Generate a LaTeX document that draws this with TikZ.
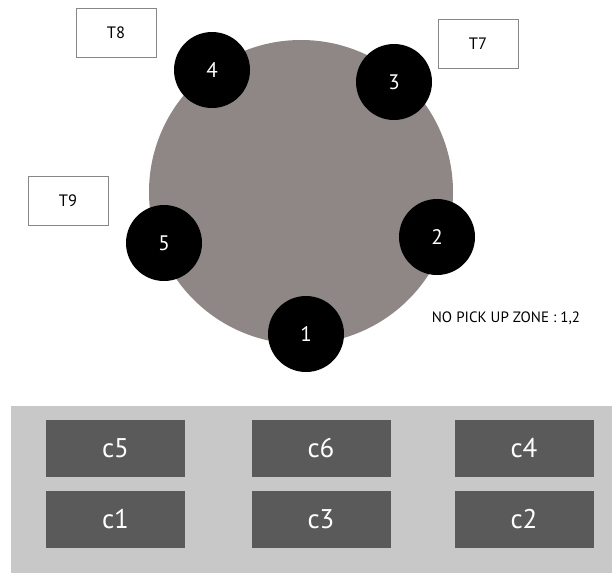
\documentclass[tikz,border=0pt]{standalone}
\usepackage{fontspec}
\setmainfont{PT Sans}

\definecolor{tablegray}{RGB}{142,135,134}
\definecolor{panelgray}{RGB}{200,200,200}
\definecolor{crategray}{RGB}{90,90,90}
\definecolor{tagline}{RGB}{135,135,135}

\begin{document}
\begin{tikzpicture}[x=1pt,y=-1pt,
  station/.style={circle,fill=black,minimum size=76pt,inner sep=0pt,text=white,font=\fontsize{21}{21}\selectfont},
  tagbox/.style={draw=tagline,line width=0.8pt,minimum width=80pt,minimum height=49pt,inner sep=0pt,font=\fontsize{16.5}{16.5}\selectfont},
  crate/.style={fill=crategray,minimum width=139pt,minimum height=57pt,inner sep=0pt,text=white,font=\fontsize{27}{27}\selectfont}]
\useasboundingbox (0,0) rectangle (612,574);
% turntable
\fill[tablegray] (301,192) circle (152);
\node[station] (s1) at (306,334) {1};
\node[station] (s2) at (437,237) {2};
\node[station] (s3) at (394,82) {3};
\node[station] (s4) at (212,70) {4};
\node[station] (s5) at (164,243) {5};
% tags
\node[tagbox] (t8) at (116,33) {T8};
\node[tagbox] (t7) at (478,43.5) {T7};
\node[tagbox] (t9) at (68,200.5) {T9};
\node[font=\fontsize{15}{15}\selectfont] (zone) at (506,318) {NO PICK UP ZONE : 1,2};
% crates
\fill[panelgray] (11,406) rectangle (612,573);
\node[crate] (c5) at (115.5,448) {c5};
\node[crate] (c6) at (321,448) {c6};
\node[crate] (c4) at (524,448) {c4};
\node[crate] (c1) at (115.5,519.5) {c1};
\node[crate] (c3) at (321,519.5) {c3};
\node[crate] (c2) at (524,519.5) {c2};
\end{tikzpicture}
\end{document}
